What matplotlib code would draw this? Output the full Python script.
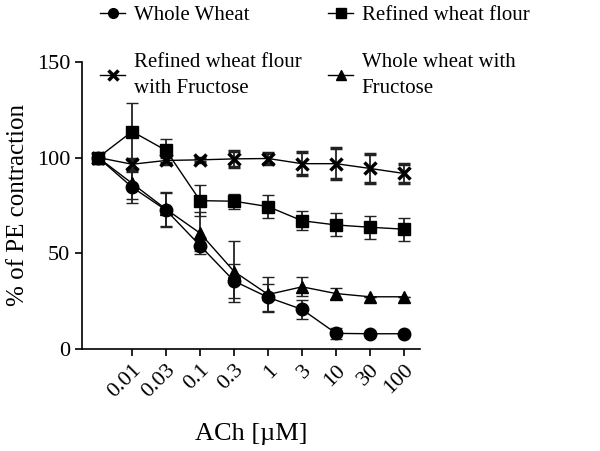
import numpy as np
import matplotlib.pyplot as plt
from matplotlib.lines import Line2D

plt.rcParams['font.family'] = ['Liberation Serif', 'DejaVu Serif']

doses = ['', '0.01', '0.03', '0.1', '0.3', '1', '3', '10', '30', '100']

whole = [100, 84.5, 72.5, 54, 35.5, 27, 20.7, 8.2, 8, 8]
whole_err = [0, 8, 9, 3, 9, 7, 5, 3, 0, 0]

refined = [100, 113.6, 103.7, 77.5, 77.2, 74.4, 67, 64.8, 63.6, 62.6]
refined_err = [0, 15, 6, 8, 4, 6, 5, 6, 6, 6]

refined_fru = [100, 96.5, 98.5, 98.8, 99.3, 99.5, 96.8, 96.8, 94.3, 91.7]
refined_fru_err = [0, 3, 2, 1, 4, 3, 6, 8, 7.5, 5]

whole_fru = [100, 86.5, 73, 60.5, 40.5, 28.5, 32.5, 29, 27.3, 27.3]
whole_fru_err = [0, 8, 9, 11, 16, 9, 5, 3, 0, 0]

legend_text = ['Whole Wheat', 'Refined wheat flour\nwith Fructose',
               'Refined wheat flour', 'Whole wheat with\nFructose']

x = np.arange(len(doses))

fig = plt.figure(figsize=(6.0, 4.51), dpi=100)
ax = fig.add_axes([0.137, 0.226, 0.563, 0.637])

ekw = dict(color='black', ecolor='#222222', elinewidth=1.3, capsize=4,
           capthick=1.3, linewidth=1, markersize=9)
series = [(whole, whole_err, 'o'), (refined_fru, refined_fru_err, 'x'),
          (refined, refined_err, 's'), (whole_fru, whole_fru_err, '^')]
handles = []
for vals, err, m in series:
    mew = 2.5 if m == 'x' else 1
    ax.errorbar(x, vals, yerr=err, marker=m, markeredgewidth=mew, **ekw)
    handles.append(Line2D([], [], color='black', lw=1, marker=m,
                          markersize=7, markeredgewidth=mew))

ax.set_xlim(-0.47, 9.47)
ax.set_ylim(0, 150)
ax.set_yticks([0, 50, 100, 150])
ax.set_xticks(x[1:])
ax.set_xticklabels(doses[1:], rotation=45, ha='right', rotation_mode='anchor')
ax.tick_params(labelsize=16, width=1.2, length=5)
ax.spines['top'].set_visible(False)
ax.spines['right'].set_visible(False)
ax.spines['left'].set_linewidth(1.2)
ax.spines['bottom'].set_linewidth(1.2)
ax.set_xlabel('ACh [µM]', fontsize=19, labelpad=15)
ax.set_ylabel('% of PE contraction', fontsize=18, labelpad=6)

leg = fig.legend(handles, legend_text,
                 ncol=2, loc='upper left', bbox_to_anchor=(0.167, 0.988),
                 frameon=False, fontsize=15, handlelength=1.2, borderpad=0,
                 borderaxespad=0, columnspacing=1.3, labelspacing=1.35,
                 handletextpad=0.4)
for t in leg.get_texts():
    t.set_linespacing(1.5)

fig.savefig('out.png', dpi=100)
